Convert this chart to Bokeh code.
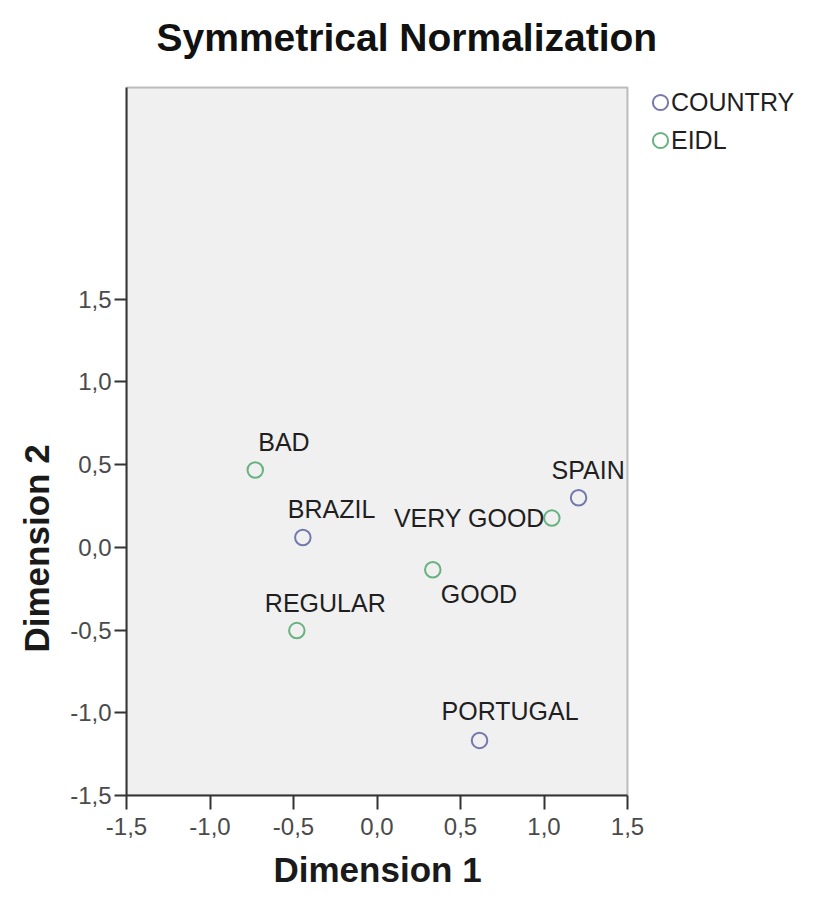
from bokeh.plotting import figure
from bokeh.models import (FixedTicker, CustomJSTickFormatter, Legend, LegendItem,
                          Title, ColumnDataSource, Range1d, BoxAnnotation)
from bokeh.embed import file_html
from bokeh.resources import INLINE
from bokeh.core.properties import value

# ---- data ----
country_labels = ["BRAZIL", "PORTUGAL", "SPAIN"]
country_x = [-0.444, 0.614, 1.207]
country_y = [0.06, -1.167, 0.30]

eidl_labels = ["BAD", "VERY GOOD", "GOOD", "REGULAR"]
eidl_x = [-0.729, 1.047, 0.334, -0.480]
eidl_y = [0.468, 0.177, -0.135, -0.503]

tick_values = [-1.5, -1.0, -0.5, 0.0, 0.5, 1.0, 1.5]
axis_min, axis_max = -1.5, 1.5
y_top = 2.78

# ---- label styling (pixel offsets) ----
country_dx = [-15, -38, -27]
country_dy = [-28, -29, -28]
country_align = ["left", "left", "left"]
eidl_dx = [3, -7, 8, -32]
eidl_dy = [-28, 0, 24, -28]
eidl_align = ["left", "right", "left", "left"]

COUNTRY_COLOR = "#7479ad"
EIDL_COLOR = "#67b27f"
FONT = "Liberation Sans"

W, H = 808, 902
LEFT, TOP, BOTTOM, RIGHT = 126, 85, 106, 0
BOX_W, BOX_H = 501, 709   # pixel size of the grey plotting box
PAD_TOP = 2               # room above the box so its top edge is not clipped
x_end = axis_min + (axis_max - axis_min) * (W - LEFT - RIGHT) / BOX_W
y_end = y_top + PAD_TOP * (y_top - axis_min) / BOX_H

p = figure(width=W, height=H, output_backend="svg", toolbar_location=None,
           x_range=Range1d(axis_min, x_end), y_range=Range1d(axis_min, y_end),
           min_border_left=LEFT, min_border_right=RIGHT, min_border_top=TOP,
           min_border_bottom=BOTTOM, title=None)

p.background_fill_color = "white"
p.border_fill_color = "white"
p.outline_line_color = None
p.grid.visible = False

box = BoxAnnotation(left=axis_min, right=axis_max, bottom=axis_min, top=y_top,
                    fill_color="#f0f0f0", fill_alpha=1,
                    line_color="#333333", line_width=2, level="underlay")
p.add_layout(box)

src_c = ColumnDataSource(dict(x=country_x, y=country_y, t=country_labels,
                              dx=country_dx, dy=country_dy, al=country_align))
src_e = ColumnDataSource(dict(x=eidl_x, y=eidl_y, t=eidl_labels,
                              dx=eidl_dx, dy=eidl_dy, al=eidl_align))

rc = p.scatter("x", "y", source=src_c, marker="circle", size=15.5, fill_color=None,
               line_color=COUNTRY_COLOR, line_width=2)
re_ = p.scatter("x", "y", source=src_e, marker="circle", size=15.5, fill_color=None,
                line_color=EIDL_COLOR, line_width=2)

for src in (src_c, src_e):
    p.text("x", "y", text="t", source=src, x_offset="dx", y_offset="dy",
           text_align="al", text_baseline="alphabetic",
           text_font=value(FONT), text_font_size="25px", text_color="#1f1f1f")

fmt = CustomJSTickFormatter(code="return tick.toFixed(1).replace('.', ',');")
for ax in (p.xaxis[0], p.yaxis[0]):
    ax.ticker = FixedTicker(ticks=tick_values)
    ax.formatter = fmt
    ax.axis_line_color = "#333333"
    ax.axis_line_width = 2
    ax.major_tick_line_color = "#333333"
    ax.major_tick_line_width = 2
    ax.major_tick_in = 0
    ax.minor_tick_line_color = None
    ax.major_label_text_font = FONT
    ax.major_label_text_font_size = "24px"
    ax.major_label_text_color = "#4a4a4a"

p.xaxis.bounds = (axis_min, axis_max)
p.yaxis.bounds = (axis_min, y_top)
p.xaxis.major_tick_out = 14
p.yaxis.major_tick_out = 12
p.xaxis.major_label_standoff = 8
p.yaxis.major_label_standoff = 3

# axis titles (placed as panel titles so they centre on the ticked span)
xlab = Title(text="Dimension 1", align="left", offset=147, vertical_align="top",
             standoff=24, text_font=FONT, text_font_size="35px",
             text_font_style="bold", text_color="#1a1a1a")
p.add_layout(xlab, "below")
ylab = Title(text="Dimension 2", align="left", offset=143, vertical_align="bottom",
             standoff=24, text_font=FONT, text_font_size="35px",
             text_font_style="bold", text_color="#1a1a1a")
p.add_layout(ylab, "left")

# legend: markers and texts drawn by two aligned legends
legend_marks = Legend(items=[LegendItem(label=value(""), renderers=[rc]),
                             LegendItem(label=value(""), renderers=[re_])],
                      location=(513, 636), padding=0, margin=0, spacing=0,
                      glyph_width=42, glyph_height=38, label_standoff=0,
                      label_text_font_size="1px",
                      background_fill_alpha=0, border_line_color=None)
legend_text = Legend(items=[LegendItem(label="COUNTRY", renderers=[rc]),
                            LegendItem(label="EIDL", renderers=[re_])],
                     location=(545, 636), padding=0, margin=0, spacing=0,
                     glyph_width=0, glyph_height=38, label_standoff=0,
                     label_text_font=FONT, label_text_font_size="25px",
                     label_text_color="#1f1f1f",
                     background_fill_alpha=0, border_line_color=None)
p.add_layout(legend_marks, "center")
p.add_layout(legend_text, "center")

title = Title(text="Symmetrical Normalization", align="left", offset=30,
              text_font=FONT, text_font_size="39px", text_font_style="bold",
              text_color="#111111")
p.add_layout(Title(text=" ", text_font_size="9px"), "above")
p.add_layout(title, "above")

open("out.html", "w").write(file_html(p, INLINE))
